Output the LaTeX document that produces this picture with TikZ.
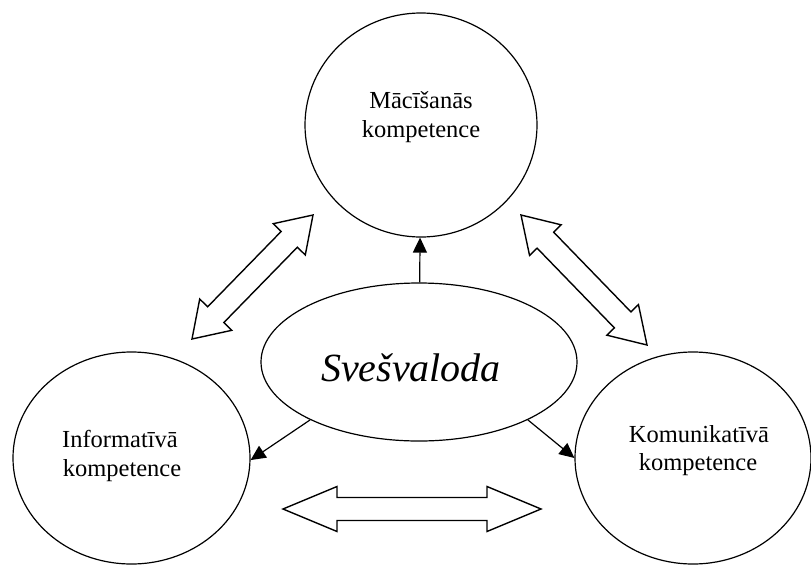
\documentclass[tikz,border=0pt]{standalone}
\usepackage{fontspec}
\setmainfont{Liberation Serif}
\usetikzlibrary{shapes.geometric,arrows.meta,calc}

\tikzset{
  comp/.style={draw, ellipse, line width=1.2pt, inner sep=0pt},
  lbl/.style={anchor=base, inner sep=0pt, font=\fontsize{24.5}{29}\selectfont},
  link/.style={line width=1.2pt, -{Triangle[length=15pt,width=14pt]}},
  blockarrow/.style={draw, line width=1.4pt, fill=white, line join=miter},
}

% hollow double-headed block arrow between two tips:
% #1,#2 tips, #3 head length, #4 head half-width, #5 shaft half-width
\newcommand{\hollowdouble}[5]{%
  \draw[blockarrow]
    (#1)
    -- ($(#1)!#3!(#2)!#4!90:(#2)$)
    -- ($(#1)!#3!(#2)!#5!90:(#2)$)
    -- ($(#2)!#3!(#1)!#5!-90:(#1)$)
    -- ($(#2)!#3!(#1)!#4!-90:(#1)$)
    -- (#2)
    -- ($(#2)!#3!(#1)!#4!90:(#1)$)
    -- ($(#2)!#3!(#1)!#5!90:(#1)$)
    -- ($(#1)!#3!(#2)!#5!-90:(#2)$)
    -- ($(#1)!#3!(#2)!#4!-90:(#2)$)
    -- cycle;}

\begin{document}
\begin{tikzpicture}[x=1pt, y=-1pt]
  \useasboundingbox (0,0) rectangle (811,565);

  % the three competences and the language in the middle
  \node[comp, minimum width=232pt, minimum height=224pt] (mac) at (421,125) {};
  \node[comp, minimum width=237pt, minimum height=212pt] (inf) at (131.5,458) {};
  \node[comp, minimum width=236pt, minimum height=212pt] (kom) at (693,458) {};
  \node[comp, minimum width=316pt, minimum height=158pt] (sv) at (419,362) {};

  \node[lbl] (macA) at (421,108) {Mācīšanās};
  \node[lbl] (macB) at (421,137) {kompetence};
  \node[lbl] (infA) at (120,447) {Informatīvā};
  \node[lbl] (infB) at (122,476) {kompetence};
  \node[lbl] (komA) at (699,442) {Komunikatīvā};
  \node[lbl] (komB) at (698,470) {kompetence};
  \node[anchor=base, inner sep=0pt, font=\fontsize{40}{46}\selectfont\itshape] (svA) at (411,381) {Svešvaloda};

  % influence of the language on each competence
  \draw[link] (sv) -- (mac);
  \draw[link] (sv.208) -- (inf.-1);
  \draw[link] (sv.-28) -- (kom.180);

  % mutual links between the competences
  \coordinate (ulA) at (192,339);
  \coordinate (ulB) at (313,215);
  \coordinate (urA) at (521,215);
  \coordinate (urB) at (647,345);
  \coordinate (btA) at (283,509);
  \coordinate (btB) at (541,509);
  \hollowdouble{ulA}{ulB}{34pt}{22.4pt}{11.3pt}
  \hollowdouble{urA}{urB}{35pt}{22pt}{11.5pt}
  \hollowdouble{btA}{btB}{54pt}{22.5pt}{11.5pt}
\end{tikzpicture}
\end{document}
